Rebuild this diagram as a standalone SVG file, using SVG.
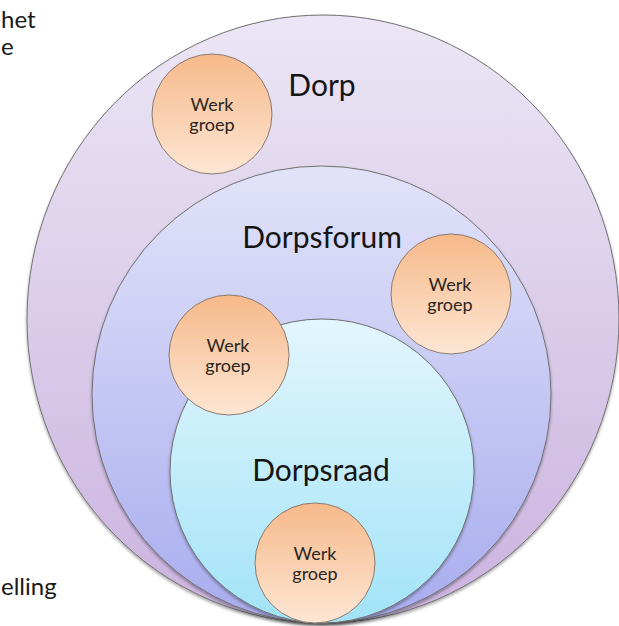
<svg xmlns="http://www.w3.org/2000/svg" width="619" height="626" viewBox="0 0 619 626">
  <style>
    .ring { stroke: #707070; stroke-width: 1; }
    .wg { stroke: #8a7a70; stroke-width: 1; fill: url(#gOrange); }
    .big { font-family: Lato, "Open Sans", sans-serif; font-size: 30px; fill: #151515; text-anchor: middle; }
    .small { font-family: Lato, "Open Sans", sans-serif; font-size: 18px; fill: #2a2520; text-anchor: middle; }
    .side { font-family: Lato, "Open Sans", sans-serif; font-size: 24px; fill: #1a1a1a; text-anchor: start; }
  </style>
  <defs>
    <linearGradient id="gOuter" x1="0" y1="0" x2="0" y2="1">
      <stop offset="0" stop-color="#ebe6f5"/>
      <stop offset="1" stop-color="#cbb3df"/>
    </linearGradient>
    <linearGradient id="gMid" x1="0" y1="0" x2="0" y2="1">
      <stop offset="0" stop-color="#e2e3f9"/>
      <stop offset="1" stop-color="#a8acee"/>
    </linearGradient>
    <linearGradient id="gInner" x1="0" y1="0" x2="0" y2="1">
      <stop offset="0" stop-color="#e3f6fd"/>
      <stop offset="1" stop-color="#a2e3f7"/>
    </linearGradient>
    <linearGradient id="gOrange" x1="0" y1="0" x2="0" y2="1">
      <stop offset="0" stop-color="#f6b98a"/>
      <stop offset="1" stop-color="#fde6d4"/>
    </linearGradient>
    <filter id="shadow" x="-10%" y="-10%" width="120%" height="120%">
      <feDropShadow dx="0" dy="2" stdDeviation="1.5" flood-color="#000" flood-opacity="0.35"/>
    </filter>
  </defs>
  <rect width="619" height="626" fill="#ffffff"/>

  <g id="side-text">
    <text class="side" x="1" y="28">het</text>
    <text class="side" x="1" y="55">e</text>
    <text class="side" x="1" y="595">elling</text>
  </g>

  <g id="dorp">
    <ellipse class="ring" cx="323" cy="319" rx="296" ry="304" fill="url(#gOuter)" filter="url(#shadow)"/>
    <text class="big" x="322" y="96">Dorp</text>
  </g>

  <g id="dorpsforum">
    <ellipse class="ring" cx="321.5" cy="394.5" rx="229.5" ry="228.5" fill="url(#gMid)" filter="url(#shadow)"/>
    <text class="big" x="322" y="248">Dorpsforum</text>
  </g>

  <g id="dorpsraad">
    <circle class="ring" cx="322" cy="471" r="152" fill="url(#gInner)" filter="url(#shadow)"/>
    <text class="big" x="321" y="481">Dorpsraad</text>
  </g>

  <g id="werkgroep-1">
    <circle class="wg" cx="212" cy="114" r="60"/>
    <text class="small" x="212" y="111">Werk</text>
    <text class="small" x="212" y="131">groep</text>
  </g>

  <g id="werkgroep-2">
    <circle class="wg" cx="451" cy="294" r="60"/>
    <text class="small" x="450" y="291">Werk</text>
    <text class="small" x="450" y="311">groep</text>
  </g>

  <g id="werkgroep-3">
    <circle class="wg" cx="229" cy="355" r="60"/>
    <text class="small" x="228" y="352">Werk</text>
    <text class="small" x="228" y="372">groep</text>
  </g>

  <g id="werkgroep-4">
    <circle class="wg" cx="315" cy="563" r="60"/>
    <text class="small" x="315" y="560">Werk</text>
    <text class="small" x="315" y="580">groep</text>
  </g>

  <g id="connectors"></g>
</svg>
